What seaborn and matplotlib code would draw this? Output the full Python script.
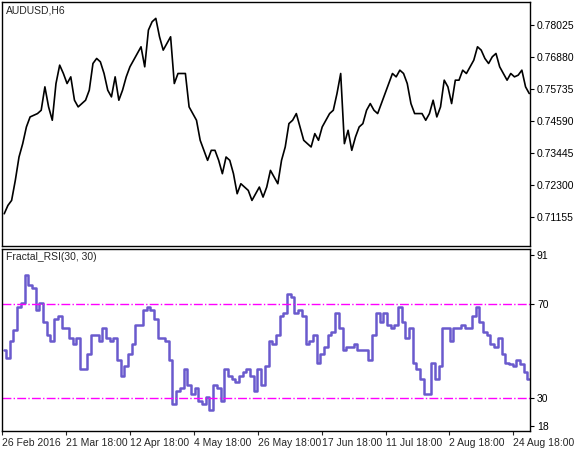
import numpy as np
import pandas as pd
import matplotlib
matplotlib.use("Agg")
import matplotlib.pyplot as plt
import seaborn as sns

# AUDUSD H6 close (one value every ~4 bars)
price = [
    .71273, .71572, .71751, .72468, .73304, .73782, .74380, .74738, .74798, .74858,
    .74977, .75814, .75097, .74619, .75933, .76591, .76292, .75933, .76172, .75336,
    .75097, .75216, .75336, .75694, .76650, .76830, .76710, .76292, .75694, .75455,
    .76172, .75336, .75694, .76172, .76531, .76770, .77009, .77248, .76531, .77845,
    .78144, .78264, .77606, .77128, .77367, .77606, .75933, .76292, .76292, .76292,
    .75097, .74858, .74619, .73902, .73543, .73185, .73543, .73543, .73185, .72707,
    .73304, .73185, .72707, .71990, .72348, .72229, .72109, .71751, .71990, .72229,
    .71870, .72229, .72826, .72587, .72348, .73185, .73663, .74499, .74619, .74858,
    .74380, .73902, .73782, .73663, .74141, .73902, .74380, .74619, .74858, .74977,
    .75575, .76292, .73782, .74260, .73543, .74021, .74380, .74499, .74977, .75216,
    .74977, .74858, .75216, .75575, .75933, .76292, .76172, .76411, .76292, .75933,
    .75216, .74858, .74858, .74858, .74619, .74858, .75336, .74738, .75097, .76053,
    .75814, .75216, .76053, .76053, .76411, .76292, .76531, .76770, .77248, .77128,
    .76830, .76650, .76889, .77009, .76531, .76292, .76053, .76292, .76172, .76232,
    .76411, .75814, .75575,
]

# Fractal_RSI(30, 30) values
rsi = [
    50.3, 46.9, 54.3, 58.9, 68.9, 70.3, 82.3, 78.3, 76.9, 67.6,
    70.3, 62.3, 56.9, 54.3, 63.6, 64.9, 59.6, 59.6, 55.6, 52.9,
    55.6, 42.3, 42.3, 48.9, 56.9, 56.9, 54.3, 59.6, 55.6, 54.3,
    55.6, 46.3, 39.6, 43.6, 48.9, 52.9, 60.9, 60.9, 67.6, 68.9,
    67.6, 63.6, 55.6, 55.6, 54.3, 46.3, 27.6, 32.9, 34.3, 42.3,
    35.6, 31.6, 34.3, 28.9, 27.6, 30.3, 24.9, 35.6, 34.3, 28.9,
    42.3, 39.6, 38.3, 36.9, 39.6, 40.9, 42.3, 39.6, 32.9, 42.3,
    35.6, 43.6, 54.3, 52.9, 56.9, 64.9, 66.3, 74.3, 72.9, 66.3,
    67.6, 64.9, 52.9, 54.3, 56.9, 44.9, 48.9, 51.6, 56.9, 58.3,
    66.3, 59.6, 50.3, 51.6, 51.6, 52.9, 50.3, 50.3, 50.3, 46.3,
    56.9, 66.3, 62.3, 66.3, 60.9, 59.6, 60.9, 68.9, 62.3, 55.6,
    59.6, 44.9, 42.3, 38.3, 31.6, 31.6, 44.9, 38.3, 43.6, 59.6,
    59.6, 54.3, 59.6, 59.6, 60.9, 59.6, 59.6, 64.9, 68.9, 62.3,
    58.3, 56.9, 52.9, 51.6, 55.6, 48.9, 44.9, 44.3, 43.6, 46.3,
    44.3, 40.9, 38.3,
]

date_labels = ["26 Feb 2016", "21 Mar 18:00", "12 Apr 18:00", "4 May 18:00",
               "26 May 18:00", "17 Jun 18:00", "11 Jul 18:00", "2 Aug 18:00",
               "24 Aug 18:00"]
date_pos = [-0.5, 16.8, 34, 51.3, 68.7, 86, 103.2, 120.3, 137.7]
price_ticks = [0.78025, 0.76880, 0.75735, 0.74590, 0.73445, 0.72300, 0.71155]
rsi_ticks = [91, 70, 30, 18]
levels = [70, 30]

df = pd.DataFrame({"bar": np.arange(len(price)), "price": price, "rsi": rsi})

sns.set_theme(style="white")
plt.rcParams["font.family"] = ["Liberation Sans", "DejaVu Sans"]
W, H = 581, 451
fig = plt.figure(figsize=(W / 100, H / 100), dpi=100)
ax1 = fig.add_axes([2 / W, 1 - 246 / H, 528 / W, 244 / H])
ax2 = fig.add_axes([2 / W, 1 - 431 / H, 528 / W, 182 / H])

sns.lineplot(data=df, x="bar", y="price", ax=ax1, color="black", linewidth=1.2)
sns.lineplot(data=df, x="bar", y="rsi", ax=ax2, color="#6a5acd", linewidth=1.8,
             drawstyle="steps-mid")
for lv in levels:
    ax2.axhline(lv, color="#ff00ff", linestyle="-.", linewidth=1)

for ax in (ax1, ax2):
    ax.set_xlim(-0.6, 142.2)
    ax.yaxis.tick_right()
    ax.set_xlabel("")
    ax.set_ylabel("")
    for s in ax.spines.values():
        s.set_color("black")
        s.set_linewidth(1)
    ax.tick_params(axis="y", length=3, width=0.8, colors="black", labelsize=7.5, pad=2, direction="out", right=True)

ax1.set_ylim(0.7012, 0.7885)
ax1.set_yticks(price_ticks)
ax1.set_yticklabels([f"{t:.5f}" for t in price_ticks])
ax1.set_xticks([])
ax1.text(0.008, 0.985, "AUDUSD,H6", transform=ax1.transAxes, va="top", ha="left", fontsize=7.5)

ax2.set_ylim(16, 93.4)
ax2.set_yticks(rsi_ticks)
ax2.set_xticks(date_pos)
ax2.set_xticklabels(date_labels, ha="left")
ax2.tick_params(axis="x", length=3, width=0.8, labelsize=7.5, pad=2, bottom=True)
ax2.text(0.008, 0.985, "Fractal_RSI(30, 30)", transform=ax2.transAxes, va="top", ha="left", fontsize=7.5)

fig.savefig("out.png", dpi=100, facecolor="white")
